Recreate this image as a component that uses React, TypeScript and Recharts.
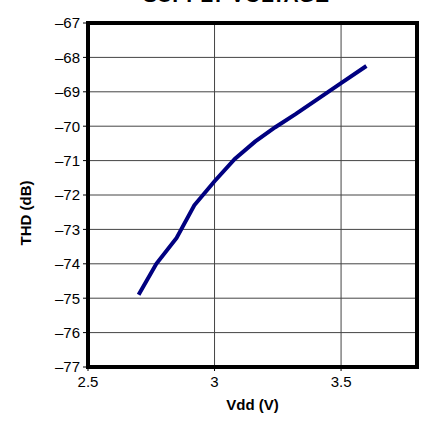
import React from "react";
import {
  LineChart,
  Line,
  XAxis,
  YAxis,
  CartesianGrid,
  ReferenceArea,
  Label,
} from "recharts";

const vdd = [2.7, 2.77, 2.85, 2.92, 3.0, 3.08, 3.16, 3.24, 3.32, 3.4, 3.5, 3.6];
const thd = [-74.9, -74.0, -73.25, -72.3, -71.6, -70.95, -70.45, -70.03, -69.65, -69.25, -68.75, -68.25];
const xTicks = [2.5, 3, 3.5];
const yTicks = [-77, -76, -75, -74, -73, -72, -71, -70, -69, -68, -67];

const data = vdd.map((v, i) => ({ vdd: v, thd: thd[i] }));

const font = "Arial, 'Liberation Sans', sans-serif";

const fmtY = (v: number) => (v < 0 ? "\u2013" + Math.abs(v) : String(v));

// rotated y label, pushed a bit below the plot's middle like the original
const YLabel = (props: any) => {
  const vb = props.viewBox || {};
  const cx = 25;
  const cy = (vb.y ?? 23) + (vb.height ?? 344) / 2 + 18;
  return (
    <text
      transform={`translate(${cx},${cy}) rotate(-90)`}
      textAnchor="middle"
      dominantBaseline="central"
      fill="#000"
      fontSize={15}
      fontWeight="bold"
      fontFamily={font}
    >
      THD (dB)
    </text>
  );
};

const App = () => {
  return (
    <div style={{ position: "absolute", left: 0, top: 0, width: 423, height: 421, background: "#fff", overflow: "hidden" }}>
      <div
        style={{
          position: "absolute",
          left: 0,
          width: 472,
          top: -17,
          textAlign: "center",
          fontFamily: font,
          fontWeight: "bold",
          fontSize: 21,
          color: "#000",
        }}
      >
        SUPPLY VOLTAGE
      </div>
      <LineChart
        width={423}
        height={421}
        data={data}
        margin={{ top: 23, right: 6, bottom: 0, left: 0 }}
      >
        <CartesianGrid stroke="#444" strokeWidth={1} />
        <XAxis
          type="number"
          dataKey="vdd"
          domain={[2.5, 3.8]}
          ticks={xTicks}
          height={54}
          axisLine={false}
          tickSize={4}
          tickLine={{ stroke: "#000" }}
          tick={{ fill: "#000", fontSize: 15, fontFamily: font }}
          tickMargin={5}
          label={{
            value: "Vdd (V)",
            position: "insideBottom",
            offset: 11,
            fill: "#000",
            fontSize: 15,
            fontWeight: "bold",
            fontFamily: font,
          }}
        />
        <YAxis
          type="number"
          domain={[-77, -67]}
          ticks={yTicks}
          width={88}
          axisLine={false}
          tickSize={5}
          tickLine={{ stroke: "#000" }}
          tick={{ fill: "#000", fontSize: 15, fontFamily: font }}
          tickFormatter={fmtY}
          tickMargin={3}
        >
          <Label content={<YLabel />} />
        </YAxis>
        <ReferenceArea
          x1={2.5}
          x2={3.8}
          y1={-77}
          y2={-67}
          fill="none"
          fillOpacity={0}
          stroke="#000"
          strokeWidth={4}
          strokeOpacity={1}
        />
        <Line
          type="linear"
          dataKey="thd"
          stroke="#000080"
          strokeWidth={4}
          dot={false}
          isAnimationActive={false}
        />
      </LineChart>
    </div>
  );
};

export default App;
